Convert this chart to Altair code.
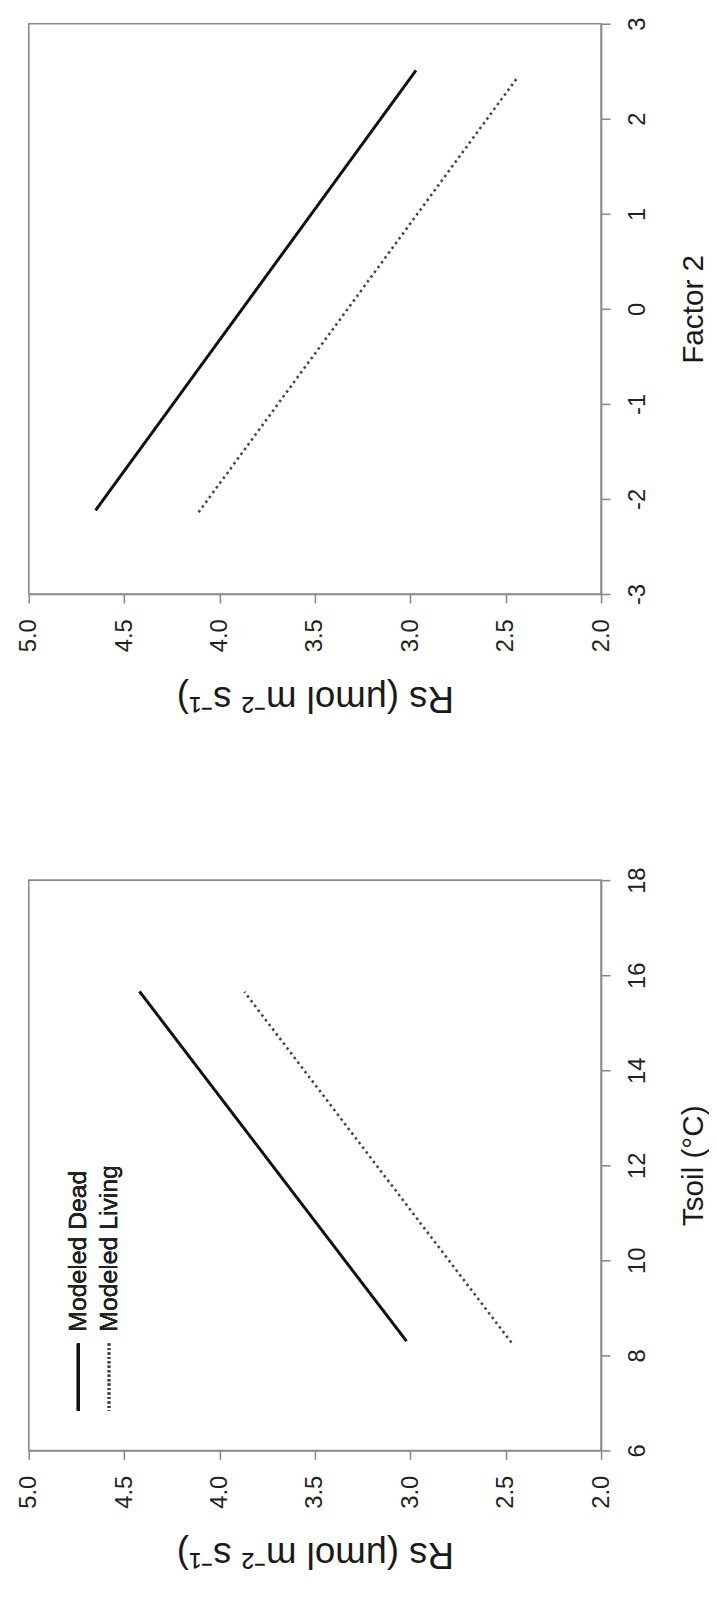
import altair as alt
import pandas as pd

series = ["Modeled Dead", "Modeled Living"]

# Tsoil panel (bottom): endpoints of the modeled lines
tsoil_x = [[8.30, 15.66], [8.27, 15.65]]
tsoil_rs = [[3.02, 4.42], [2.47, 3.87]]

# Factor 2 panel (top)
f2_x = [[-2.12, 2.51], [-2.14, 2.43]]
f2_rs = [[4.65, 2.97], [4.11, 2.44]]

rs_ticks = [2.0, 2.5, 3.0, 3.5, 4.0, 4.5, 5.0]
tsoil_ticks = [6, 8, 10, 12, 14, 16, 18]
f2_ticks = [-3, -2, -1, 0, 1, 2, 3]

rs_title = "Rs (\u03bcmol m\u207b\u00b2 s\u207b\u00b9)"

W, H = 578, 576
FONT = "Liberation Sans"
LINE_COLORS = ["#111111", "#444444"]
LINE_DASH = [[1, 0], [2.5, 3.5]]
LINE_WIDTH = [3, 2.6]


def make_df(xs, ys):
    rows = []
    for s, xx, yy in zip(series, xs, ys):
        for i, (a, b) in enumerate(zip(xx, yy)):
            rows.append({"series": s, "driver": a, "rs": b, "o": i})
    return pd.DataFrame(rows)


def panel(df, driver_title, ddomain, dticks, legend=False):
    x = alt.X(
        "rs:Q",
        scale=alt.Scale(domain=[2, 5], reverse=True, nice=False, zero=False),
        axis=alt.Axis(
            values=rs_ticks, format=".1f", orient="bottom", grid=False,
            labelAngle=270, labelAlign="right", labelBaseline="middle",
            labelPadding=16, tickSize=9,
            title=rs_title, titleAngle=180, titleX=W / 2, titleY=93,
            titleAlign="center", titleBaseline="alphabetic", titleFontSize=37,
        ),
    )
    y = alt.Y(
        "driver:Q",
        scale=alt.Scale(domain=ddomain, nice=False, zero=False),
        axis=alt.Axis(
            values=dticks, orient="right", grid=False,
            labelExpr="'' + datum.value",
            labelAngle=270, labelAlign="center", labelBaseline="top",
            labelPadding=16, tickSize=9,
            title=driver_title, titleAngle=270, titleX=102, titleY=H / 2,
            titleAlign="center", titleBaseline="alphabetic", titleFontSize=30,
        ),
    )
    lines = alt.Chart(df).mark_line(strokeCap="butt").encode(
        x=x,
        y=y,
        order="o:Q",
        color=alt.Color("series:N", scale=alt.Scale(domain=series, range=LINE_COLORS), legend=None),
        strokeDash=alt.StrokeDash("series:N", scale=alt.Scale(domain=series, range=LINE_DASH), legend=None),
        strokeWidth=alt.StrokeWidth("series:N", scale=alt.Scale(domain=series, range=LINE_WIDTH), legend=None),
    )
    layers = [lines]
    if legend:
        leg_x = [50, 81]
        leg_dash = [[1, 0], [2, 2.5]]
        for i, s in enumerate(series):
            rule = alt.Chart(df).mark_rule(
                color=LINE_COLORS[i], strokeDash=leg_dash[i], strokeWidth=LINE_WIDTH[i]
            ).encode(
                x=alt.value(leg_x[i]), y=alt.value(468), y2=alt.value(536)
            )
            txt = alt.Chart(df).mark_text(
                angle=270, align="left", baseline="middle", fontSize=25,
                font=FONT, color="#222222"
            ).encode(
                x=alt.value(leg_x[i]), y=alt.value(456), text=alt.value(s)
            )
            layers += [rule, txt]
    return alt.layer(*layers).properties(width=W, height=H)


top = panel(make_df(f2_x, f2_rs), "Factor 2", [-3, 3], f2_ticks)
bottom = panel(make_df(tsoil_x, tsoil_rs), "Tsoil (\u00b0C)", [6, 18], tsoil_ticks, legend=True)

chart = alt.vconcat(top, bottom, spacing=289, bounds="flush").configure(
    font=FONT,
    padding={"left": 8, "top": 0, "right": 0, "bottom": 0},
    background="white",
).configure_view(
    stroke="#8a8a8a", strokeWidth=1.6
).configure_axis(
    labelFontSize=24, labelFont=FONT, titleFont=FONT,
    labelColor="#222222", titleColor="#1a1a1a", titleFontWeight="normal",
    domainColor="#8a8a8a", tickColor="#8a8a8a", domainWidth=1.6, tickWidth=1.6,
)

chart.save("out.html", embed_options={"renderer": "svg", "actions": False})
